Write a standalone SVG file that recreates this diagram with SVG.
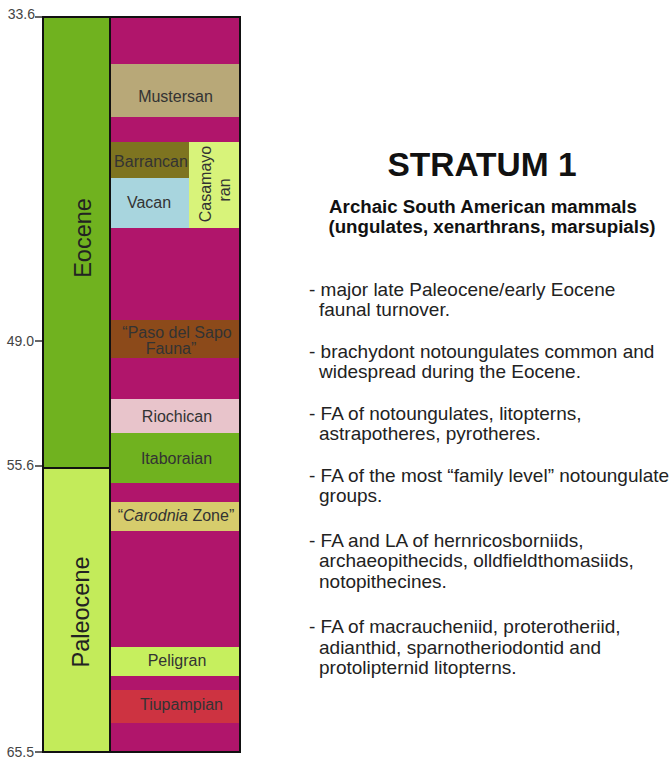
<svg xmlns="http://www.w3.org/2000/svg" width="671" height="759" viewBox="0 0 671 759">
<style>
.tick{stroke:#333;stroke-width:1.5}
.age{font-family:"Liberation Sans",Arial,sans-serif;font-size:14px;fill:#444;text-anchor:end}
.st{font-family:"Liberation Sans",Arial,sans-serif;font-size:16px;fill:#333;text-anchor:middle}
.ep{font-family:"Liberation Sans",Arial,sans-serif;font-size:23.5px;fill:#222;text-anchor:middle}
.t{font-family:"Liberation Sans",Arial,sans-serif;font-size:19px;fill:#222}
.h{font-family:"Liberation Sans",Arial,sans-serif;font-weight:bold;fill:#111;text-anchor:middle}
</style>
<rect width="671" height="759" fill="#fff"/>
<g id="ages">
<line class="tick" x1="35" y1="17" x2="43" y2="17"/><text class="age" x="35" y="19">33.6</text>
<line class="tick" x1="35" y1="341" x2="43" y2="341"/><text class="age" x="34" y="346">49.0</text>
<line class="tick" x1="35" y1="466" x2="43" y2="466"/><text class="age" x="34" y="470">55.6</text>
<line class="tick" x1="35" y1="752" x2="43" y2="752"/><text class="age" x="34" y="757">65.5</text>
</g>
<g id="eocene">
<rect x="43" y="17" width="67" height="451" fill="#70b21f"/>
<text class="ep" transform="translate(90.5,238) rotate(-90)">Eocene</text>
</g>
<g id="paleocene">
<rect x="43" y="468" width="67" height="284" fill="#c3eb5a"/>
<text class="ep" transform="translate(88.5,612) rotate(-90)">Paleocene</text>
</g>
<g id="epoch-frame">
<rect x="43" y="17" width="67" height="735" fill="none" stroke="#111" stroke-width="2"/>
<line x1="43" y1="468" x2="110" y2="468" stroke="#111" stroke-width="2"/>
</g>
<g id="stages-bg">
<rect x="110" y="17" width="130" height="735" fill="#b0156b"/>
</g>
<g id="mustersan"><rect x="111" y="64" width="128" height="53" fill="#b8a878"/><text class="st" x="175.5" y="101.5">Mustersan</text></g>
<g id="barrancan"><rect x="111" y="142" width="78" height="36" fill="#7e7420"/><text class="st" x="151" y="166.5">Barrancan</text></g>
<g id="vacan"><rect x="111" y="178" width="78" height="50" fill="#a8d5de"/><text class="st" x="149" y="208">Vacan</text></g>
<g id="casamayoran"><rect x="189" y="142" width="50" height="86" fill="#d8f37a"/>
<text class="st" transform="translate(210.5,184) rotate(-90)">Casamayo</text>
<text class="st" transform="translate(229.5,190) rotate(-90)">ran</text></g>
<g id="paso"><rect x="111" y="320" width="128" height="38" fill="#8c4a1a"/>
<text class="st" x="177" y="337.5">“Paso del Sapo</text><text class="st" x="171" y="354">Fauna”</text></g>
<g id="riochican"><rect x="111" y="399" width="128" height="34" fill="#e8c4cb"/><text class="st" x="177" y="422">Riochican</text></g>
<g id="itaboraian"><rect x="111" y="433" width="128" height="50" fill="#70b21f"/><text class="st" x="176.5" y="464">Itaboraian</text></g>
<g id="carodnia"><rect x="111" y="502" width="128" height="29" fill="#d6cc6c"/><text class="st" x="176" y="521">“<tspan font-style="italic">Carodnia</tspan> Zone”</text></g>
<g id="peligran"><rect x="111" y="647" width="128" height="29" fill="#c6ef5e"/><text class="st" x="177" y="666">Peligran</text></g>
<g id="tiupampian"><rect x="111" y="690" width="128" height="33" fill="#cd3341"/><text class="st" x="181.5" y="710">Tiupampian</text></g>
<g id="stage-frame"><rect x="110" y="17" width="130" height="735" fill="none" stroke="#111" stroke-width="2"/></g>
<g id="title">
<text class="h" x="482" y="176" font-size="33.5px">STRATUM 1</text>
<text class="h" x="483" y="213" font-size="18.7px">Archaic South American mammals</text>
<text class="h" x="492" y="233" font-size="18.7px">(ungulates, xenarthrans, marsupials)</text>
</g>
<g id="notes">
<text class="t" x="309" y="296">- major late Paleocene/early Eocene</text>
<text class="t" x="319" y="316">faunal turnover.</text>
<text class="t" x="309" y="358">- brachydont notoungulates common and</text>
<text class="t" x="319" y="378">widespread during the Eocene.</text>
<text class="t" x="309" y="420">- FA of notoungulates, litopterns,</text>
<text class="t" x="319" y="440">astrapotheres, pyrotheres.</text>
<text class="t" x="309" y="482">- FA of the most “family level” notoungulate</text>
<text class="t" x="319" y="502">groups.</text>
<text class="t" x="309" y="547">- FA and LA of hernricosborniids,</text>
<text class="t" x="319" y="567">archaeopithecids, olldfieldthomasiids,</text>
<text class="t" x="319" y="588">notopithecines.</text>
<text class="t" x="309" y="633">- FA of macraucheniid, proterotheriid,</text>
<text class="t" x="319" y="654">adianthid, sparnotheriodontid and</text>
<text class="t" x="319" y="674">protolipternid litopterns.</text>
</g>
</svg>
